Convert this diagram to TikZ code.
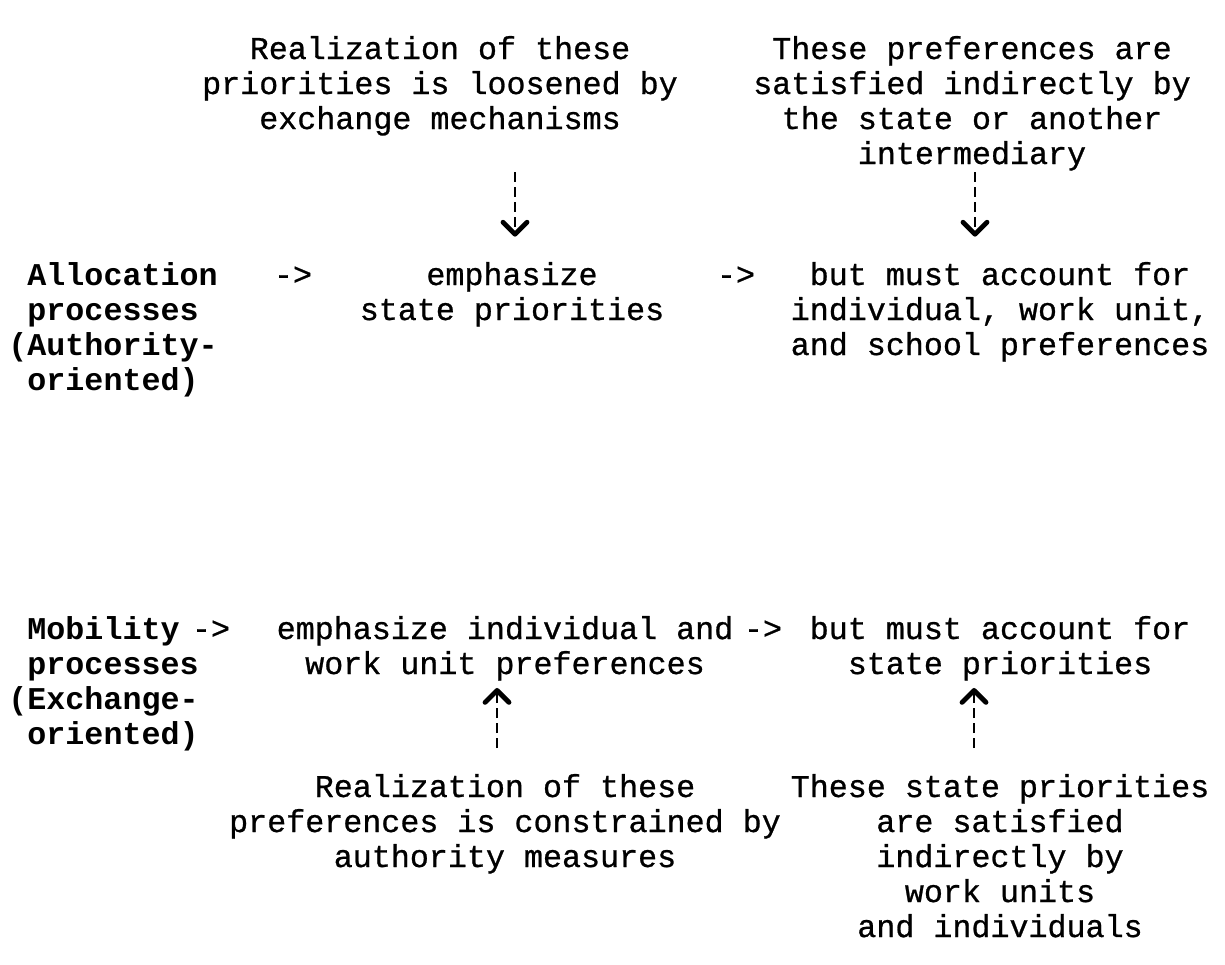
\documentclass[tikz,border=0pt]{standalone}
\usepackage{fontspec}
\setmonofont{Liberation Mono}
\newfontfamily\courmed{Liberation Mono}[FakeBold=0.8]
\usetikzlibrary{arrows.meta}

\begin{document}
\begin{tikzpicture}[x=0.5pt,y=-0.5pt,
 txt/.style={font=\fontsize{15.85}{17.5}\selectfont\courmed,inner sep=0pt,align=center,anchor=base},
 lab/.style={font=\fontsize{15.85}{17.5}\selectfont\ttfamily\bfseries,inner sep=0pt,align=left,anchor=base west},
 dv/.style={line width=1.1pt,dash pattern=on 5pt off 2.5pt,
  -{Straight Barb[length=6pt,width=12pt,line width=2.4pt,round]}}]
\useasboundingbox (0,0) rectangle (1225,964);
% nodes sit on the baseline of their last line
\node[txt] (tl) at (440,129) {Realization of these\\priorities is loosened by\\exchange mechanisms};
\node[txt] (tr) at (972,164) {These preferences are\\satisfied indirectly by\\the state or another\\intermediary};

\node[lab] (al) at (8,390) {\phantom{(}Allocation\\\phantom{(}processes\\(Authority-\\\phantom{(}oriented)};
\node[txt] (r1) at (293,285) {->};
\node[txt] (ep) at (512,320) {emphasize\\state priorities};
\node[txt] (r2) at (736,285) {->};
\node[txt] (bm) at (1000,355) {but must account for\\individual, work unit,\\and school preferences};

\node[lab] (mo) at (8,744) {\phantom{(}Mobility\\\phantom{(}processes\\(Exchange-\\\phantom{(}oriented)};
\node[txt] (r3) at (211,639) {->};
\node[txt] (ei) at (505,674) {emphasize individual and\\work unit preferences};
\node[txt] (r4) at (763,639) {->};
\node[txt] (bs) at (1000,674) {but must account for\\state priorities};

\node[txt] (bl) at (505,867) {Realization of these\\preferences is constrained by\\authority measures};
\node[txt] (br) at (1000,937) {These state priorities\\are satisfied\\indirectly by\\work units\\and individuals};

\coordinate (d1) at (515,172); \coordinate (d2) at (975,172);
\coordinate (u1) at (497,748); \coordinate (u2) at (974,748);
\draw[dv,shorten >=12.5pt] (d1)--(d1|-ep.north);
\draw[dv,shorten >=12.5pt] (d2)--(d2|-bm.north);
\draw[dv,shorten >=3.5pt] (u1)--(u1|-ei.south);
\draw[dv,shorten >=3.5pt] (u2)--(u2|-bs.south);
\end{tikzpicture}
\end{document}
